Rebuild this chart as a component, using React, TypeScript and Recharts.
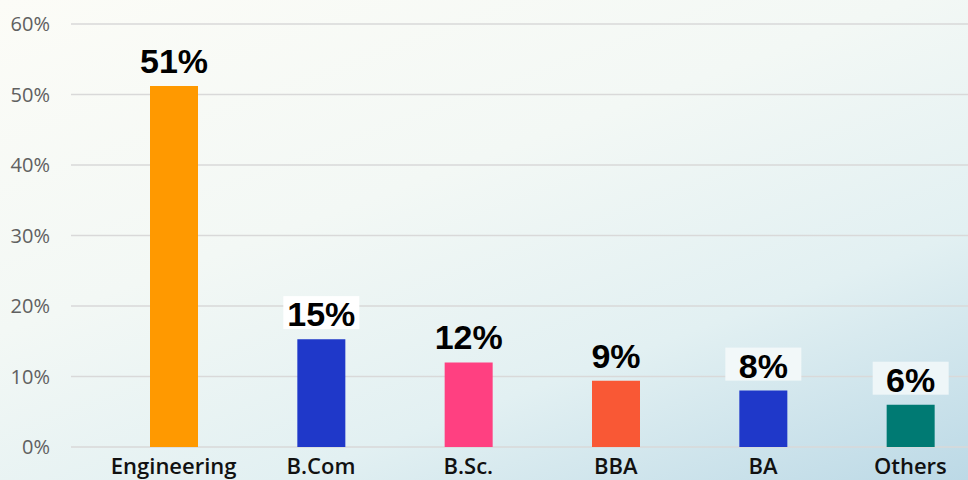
import { BarChart, Bar, XAxis, YAxis, CartesianGrid, Cell, LabelList } from 'recharts';

const courses = ['Engineering', 'B.Com', 'B.Sc.', 'BBA', 'BA', 'Others'];
const shares = [51.2, 15.3, 12, 9.4, 8, 6];
const shareLabels = ['51%', '15%', '12%', '9%', '8%', '6%'];
const barColors = ['#FF9900', '#1F38C9', '#FF4081', '#F95835', '#1F38C9', '#007A73'];
const labelBoxes = [null, '#ffffff', null, null, '#f2f8f9', '#eef6f8'];
const yTicks = [0, 10, 20, 30, 40, 50, 60];

const data = courses.map((name, i) => ({
  name,
  share: shares[i],
  label: shareLabels[i],
  color: barColors[i],
  box: labelBoxes[i],
}));

function ValueLabel(props: any) {
  const { x, y, width, index } = props;
  const d = data[index];
  const cx = x + width / 2;
  const base = y - 13;
  return (
    <g>
      {d.box && (
        <rect x={cx - 38} y={base - 30} width={76} height={33} fill={d.box} />
      )}
      <text
        x={cx}
        y={base}
        textAnchor="middle"
        fontFamily="'Liberation Sans', Arial, sans-serif"
        fontWeight={700}
        fontSize={34}
        fill="#000"
      >
        {d.label}
      </text>
    </g>
  );
}

export default function App() {
  return (
    <div
      style={{
        position: 'absolute',
        left: 0,
        top: 0,
        width: 968,
        height: 480,
        overflow: 'hidden',
        background: 'linear-gradient(160deg, #fcfcf7 0%, #f3f8f5 40%, #e2f0f2 70%, #bcd9e6 100%)',
      }}
    >
      <BarChart
        width={984}
        height={480}
        data={data}
        margin={{ top: 24, right: 0, bottom: 0, left: 0 }}
      >
        <CartesianGrid vertical={false} stroke="#d9d9d9" strokeWidth={1.5} />
        <XAxis
          dataKey="name"
          height={33}
          axisLine={false}
          tickLine={false}
          padding={{ left: 29, right: 0 }}
          tickMargin={5}
          interval={0}
          tick={{ fill: '#111', fontSize: 22, fontWeight: 600, fontFamily: "'Open Sans', sans-serif" }}
        />
        <YAxis
          width={71}
          domain={[0, 60]}
          ticks={yTicks}
          axisLine={false}
          tickLine={false}
          tickMargin={15}
          tickFormatter={(v: number) => `${v}%`}
          tick={{ fill: '#606060', fontSize: 20, fontFamily: "'Open Sans', sans-serif" }}
        />
        <Bar dataKey="share" barSize={48} isAnimationActive={false}>
          {data.map((d, i) => (
            <Cell key={i} fill={d.color} />
          ))}
          <LabelList dataKey="share" content={<ValueLabel />} />
        </Bar>
      </BarChart>
    </div>
  );
}
